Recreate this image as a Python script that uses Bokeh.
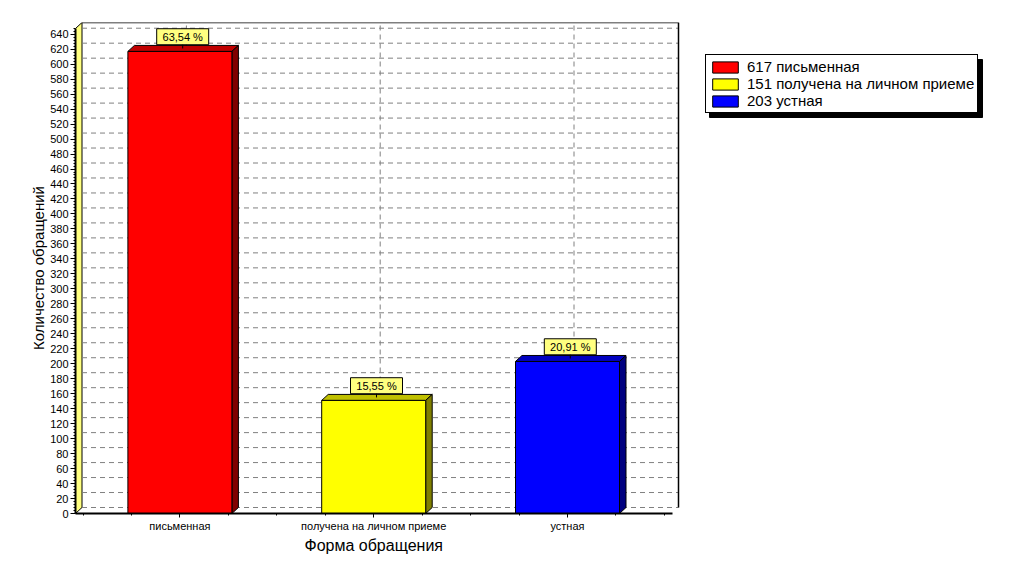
from bokeh.plotting import figure
from bokeh.models import Range1d, FixedTicker, Legend, LegendItem, ColumnDataSource, Title
from bokeh.core.properties import value
from bokeh.embed import file_html
from bokeh.resources import INLINE

# ---- data ----
categories = ["письменная", "получена на личном приеме", "устная"]
counts = [617, 151, 203]
front_colors = ["#FF0000", "#FFFF00", "#0000FF"]
top_colors = ["#C00000", "#C0C000", "#0000C0"]
side_colors = ["#800000", "#808000", "#000080"]
y_ticks = list(range(0, 641, 20))
y_minor = list(range(0, 649, 4))
x_title = "Форма обращения"
y_title = "Количество обращений"

FONT = "Liberation Sans"

# ---- geometry (pixels -> data units) ----
W, H = 1004, 566
BL, BT, BB = 75, 22, 53
PX_X = 193.8          # px per category
PX_Y = 0.7489         # px per count
frame_w = W - BL
frame_h = H - BT - BB
x_start = -7.5 / PX_X
x_end = x_start + frame_w / PX_X
y_end = frame_h / PX_Y
DX = 6.5 / PX_X
DY = 6.0 / PX_Y
back_right = x_start + 603 / PX_X
front_right = back_right - DX
bar_w = 104 / PX_X

def sx(px):  # page x -> data
    return x_start + (px - 75) / PX_X

def sy(py):  # page y -> data
    return (513 - py) / PX_Y

centers = [i + 0.5 for i in range(len(categories))]
total = sum(counts)
pct_labels = [("%.2f" % (100.0 * c / total)).replace(".", ",") + " %" for c in counts]

p = figure(width=W, height=H, x_range=Range1d(x_start, x_end), y_range=Range1d(0, y_end),
           output_backend="svg", toolbar_location=None,
           min_border_left=BL, min_border_right=0, min_border_top=BT, min_border_bottom=BB)
p.outline_line_color = None
p.xgrid.visible = False
p.ygrid.visible = False
p.background_fill_color = "white"

# left wall (3D)
p.patch([x_start, x_start + DX, x_start + DX, x_start],
        [0, DY, y_end, y_end - DY],
        fill_color="#FFFF80", line_color="black", line_width=1)

# back-wall grid
gy = [t + DY for t in y_ticks]
p.segment(x0=[x_start + DX] * len(gy), x1=[back_right] * len(gy), y0=gy, y1=gy,
          line_color="#808080", line_dash="5 4", line_width=1)
gx = [c + DX for c in centers]
p.segment(x0=gx, x1=gx, y0=[DY] * len(gx), y1=[y_end] * len(gx),
          line_color="#808080", line_dash="5 4", line_width=1)

# back-wall border
p.line([x_start + DX, back_right, back_right], [y_end, y_end, DY],
       line_color="black", line_width=1.5)

# bars
lefts = [c - bar_w / 2 for c in centers]
rights = [c + bar_w / 2 for c in centers]
src = ColumnDataSource(dict(left=lefts, right=rights, top=counts, color=front_colors))
top_xs = [[l, l + DX, r + DX, r] for l, r in zip(lefts, rights)]
top_ys = [[v, v + DY, v + DY, v] for v in counts]
side_xs = [[r, r + DX, r + DX, r] for r in rights]
side_ys = [[0, DY, v + DY, v] for v in counts]
p.patches(top_xs, top_ys, fill_color=top_colors, line_color="black", line_width=1)
p.patches(side_xs, side_ys, fill_color=side_colors, line_color="black", line_width=1)
bars = p.quad(left="left", right="right", bottom=0, top="top", fill_color="color",
              line_color="black", line_width=1, source=src)

# percentage labels
lx = [c + 2.8 / PX_X for c in centers]
p.segment(x0=lx, x1=lx, y0=[v + 3.0 / PX_Y for v in counts],
          y1=[v + 7.5 / PX_Y for v in counts], line_color="black", line_width=1)
box_y = [v + 14.7 / PX_Y for v in counts]
p.rect(x=lx, y=box_y, width=52, height=16, width_units="screen", height_units="screen",
       fill_color="#FFFF80", line_color="black", line_width=1)
p.text(x=lx, y=box_y, text=pct_labels, text_align="center", text_baseline="middle",
       text_font=value(FONT), text_font_size="11px", text_color="black")

# front floor line is the x axis
xa = p.xaxis[0]
xa.ticker = FixedTicker(ticks=centers, minor_ticks=[i * 0.25 for i in range(13)])
xa.major_label_overrides = {c: cat for c, cat in zip(centers, categories)}
xa.bounds = (x_start, front_right)
xa.axis_line_width = 2
xa.axis_line_color = "black"
xa.major_tick_in = 0
xa.major_tick_out = 4
xa.minor_tick_in = 0
xa.minor_tick_out = 2
xa.major_label_standoff = 2
xa.major_label_text_font = FONT
xa.major_label_text_font_size = "11px"
xa.major_label_text_color = "black"

# x-axis title, centred under the category axis
p.add_layout(Title(text=x_title, align="left", offset=229, standoff=0,
                   text_font=FONT, text_font_size="16px", text_font_style="normal",
                   text_color="black"), "below")

ya = p.yaxis[0]
ya.ticker = FixedTicker(ticks=y_ticks, minor_ticks=y_minor)
ya.bounds = (0, y_end - DY)
ya.axis_line_width = 2
ya.axis_line_color = "black"
ya.major_tick_in = 0
ya.major_tick_out = 5
ya.minor_tick_in = 0
ya.minor_tick_out = 2
ya.major_label_standoff = 2
ya.major_label_text_font = FONT
ya.major_label_text_font_size = "11px"
ya.major_label_text_color = "black"
ya.axis_label = y_title
ya.axis_label_text_font = FONT
ya.axis_label_text_font_size = "15px"
ya.axis_label_text_font_style = "normal"
ya.axis_label_text_color = "black"
ya.axis_label_standoff = 0

# legend shadow
p.quad(left=[sx(709)], right=[sx(982)], top=[sy(59)], bottom=[sy(117)],
       fill_color="black", line_color="black")

items = [LegendItem(label="%d %s" % (counts[i], categories[i]), renderers=[bars], index=i)
         for i in range(len(categories))]
legend = Legend(items=items, location=(630, 400))
legend.border_line_color = "black"
legend.border_line_width = 1
legend.border_line_alpha = 1
legend.background_fill_color = "white"
legend.background_fill_alpha = 1
legend.padding = 3
legend.spacing = 0
legend.margin = 0
legend.glyph_width = 32
legend.glyph_height = 14
legend.label_height = 14
legend.label_standoff = 6
legend.label_text_font = FONT
legend.label_text_font_size = "15px"
legend.label_text_color = "black"
p.add_layout(legend)

open("out.html", "w").write(file_html(p, INLINE))
